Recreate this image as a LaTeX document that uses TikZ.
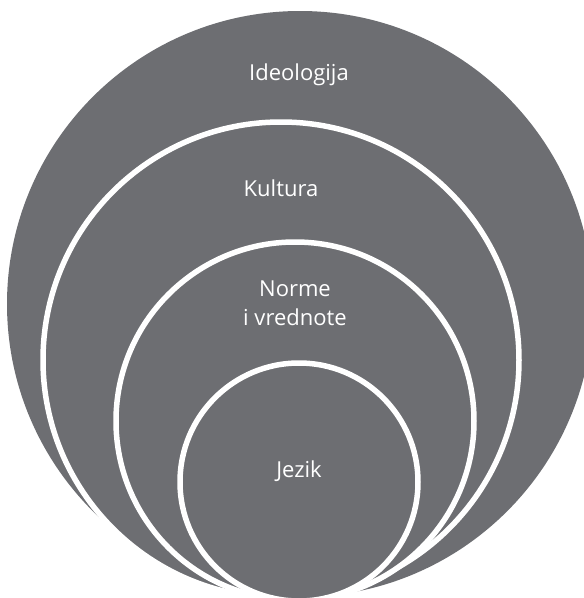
\documentclass[tikz,border=0pt]{standalone}
\usepackage{fontspec}
\newfontfamily\ringfont{Open Sans}
\usepackage{tikz}
\definecolor{ringgray}{RGB}{109,110,114}
\tikzset{
  ring/.style={draw=white, line width=5.5pt, fill=ringgray},
  lbl/.style={text=white, align=center, inner sep=0pt, font=\ringfont\fontsize{22}{29}\selectfont}
}

\begin{document}
\begin{tikzpicture}[x=1pt, y=-1pt]
    \useasboundingbox (0,0) rectangle (584,598);
    \fill[white] (0,0) rectangle (584,598);
    \clip (0,0) rectangle (584,598);
    % Circles
    \fill[ringgray] (300,304) circle[radius=293pt];
    \draw[ring] (281,360) circle[radius=238pt];
    \draw[ring] (295,421) circle[radius=179pt];
    \draw[ring] (299,482) circle[radius=119pt];

    % Labels
    \node[lbl] (ideologija) at (299,75) {Ideologija};
    \node[lbl] (kultura) at (281,188) {Kultura};
    \node[lbl] (norme) at (295,303) {Norme\\i vrednote};
    \node[lbl] (jezik) at (299,471) {Jezik};
\end{tikzpicture}
\end{document}
